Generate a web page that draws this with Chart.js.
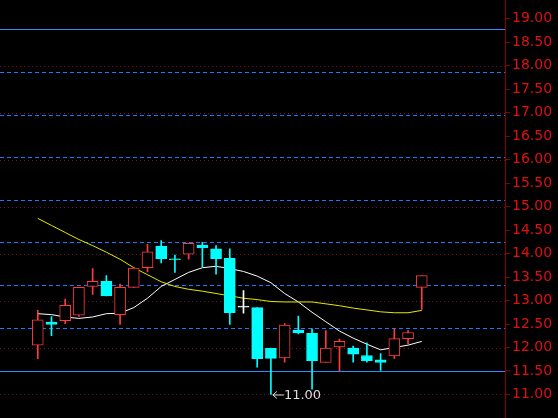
<!DOCTYPE html><html><head><meta charset="utf-8">
<script src="https://cdn.jsdelivr.net/npm/chart.js@4/dist/chart.umd.min.js"></script>
<style>html,body{margin:0;background:#000;overflow:hidden}#c{display:block}</style></head><body>
<canvas id="c" width="558" height="418" style="width:558px;height:418px"></canvas>
<script>
const opens  = [12.05,12.54,12.57,12.69,13.30,13.41,12.70,13.28,13.70,14.16,13.88,13.99,14.18,14.10,13.90,12.86,12.85,11.98,11.78,12.37,12.30,11.68,12.01,11.99,11.83,11.74,11.82,12.19,13.28];
const closes = [12.59,12.49,12.90,13.28,13.41,13.10,13.28,13.69,14.04,13.89,13.87,14.22,14.12,13.89,12.74,12.86,11.76,11.77,12.48,12.31,11.72,11.99,12.13,11.86,11.72,11.68,12.19,12.32,13.53];
const highs  = [12.79,12.66,13.03,13.28,13.68,13.53,13.35,13.70,14.20,14.28,13.97,14.22,14.24,14.17,14.10,13.21,12.85,11.99,12.51,12.67,12.40,12.36,12.18,12.03,12.10,11.87,12.40,12.36,13.53];
const lows   = [11.76,12.25,12.51,12.66,13.13,13.10,12.49,13.28,13.61,13.80,13.60,13.88,13.72,13.56,12.49,12.73,11.58,11.00,11.69,12.29,11.11,11.68,11.50,11.69,11.69,11.51,11.77,12.08,12.81];
const maShort = [12.72,12.70,12.65,12.62,12.65,12.72,12.73,12.85,13.05,13.30,13.45,13.60,13.70,13.73,13.68,13.62,13.52,13.38,13.15,12.97,12.75,12.55,12.35,12.20,12.07,11.95,12.00,12.05,12.13];
const maLong = [14.75,14.60,14.45,14.30,14.17,14.03,13.88,13.70,13.55,13.40,13.30,13.24,13.20,13.15,13.10,13.05,13.02,12.98,12.97,12.97,12.97,12.93,12.89,12.84,12.80,12.76,12.74,12.74,12.79];
const yTicks = [11,11.5,12,12.5,13,13.5,14,14.5,15,15.5,16,16.5,17,17.5,18,18.5,19];
const solidLines = [18.78, 11.51];
const dashedLines = [17.87,16.96,16.06,15.15,14.24,13.33,12.42];
const dottedLines = [18,17,16,15,14,13,12,11];
const lowLabel = '11.00';

const RED='#ff3c3c', CYAN='#00ffff', WHITE='#ffffff';
const idx = opens.map((_,i)=>i);
const col = idx.map(i=> closes[i]>opens[i]?RED:(closes[i]<opens[i]?CYAN:WHITE));
const bodyFill = idx.map(i=> closes[i]>opens[i]?'#000000':col[i]);

const bgPlugin={id:'bg',beforeDraw(ch){const c=ch.ctx;c.save();c.fillStyle='#000';c.fillRect(0,0,ch.width,ch.height);
 const y=ch.scales.y,a=ch.chartArea;
 c.lineWidth=1;
 c.strokeStyle='#6a1a1a';c.setLineDash([1,3]);
 dottedLines.forEach(v=>{const p=Math.round(y.getPixelForValue(v))+0.5;c.beginPath();c.moveTo(a.left,p);c.lineTo(a.right,p);c.stroke();});
 c.strokeStyle='#1e78ff';c.setLineDash([4,3]);
 dashedLines.forEach(v=>{const p=Math.round(y.getPixelForValue(v))+0.5;c.beginPath();c.moveTo(a.left,p);c.lineTo(a.right,p);c.stroke();});
 c.setLineDash([]);c.strokeStyle='#2a8cff';
 solidLines.forEach(v=>{const p=Math.round(y.getPixelForValue(v))+0.5;c.beginPath();c.moveTo(a.left,p);c.lineTo(a.right,p);c.stroke();});
 c.strokeStyle='#8a0000';c.beginPath();c.moveTo(a.right+0.5,0);c.lineTo(a.right+0.5,ch.height);c.stroke();
 c.restore();},
 afterDatasetsDraw(ch){const c=ch.ctx,x=ch.scales.x,y=ch.scales.y;
  const i=lows.indexOf(Math.min(...lows));const px=x.getPixelForValue(i),py=y.getPixelForValue(lows[i]);
  c.save();c.strokeStyle='#ddd';c.fillStyle='#ddd';c.lineWidth=1;
  c.beginPath();c.moveTo(px+2,py+0.5);c.lineTo(px+13,py+0.5);c.moveTo(px+2,py+0.5);c.lineTo(px+6,py-3);c.moveTo(px+2,py+0.5);c.lineTo(px+6,py+4);c.stroke();
  c.font='13px "DejaVu Sans"';c.textBaseline='middle';c.fillText(lowLabel,px+13,py+1);c.restore();}};

new Chart(document.getElementById('c'),{
 data:{datasets:[
  {type:'line',data:idx.map(i=>({x:i,y:maLong[i]})),borderColor:'#e8e800',borderWidth:1,pointRadius:0,tension:0,order:3},
  {type:'line',data:idx.map(i=>({x:i,y:maShort[i]})),borderColor:'#ffffff',borderWidth:1,pointRadius:0,tension:0,order:3},
  {type:'bar',data:idx.map(i=>({x:i,y:[lows[i],highs[i]]})),backgroundColor:col,borderWidth:0,barThickness:1,grouped:false,order:2},
  {type:'bar',data:idx.map(i=>({x:i,y:[opens[i],closes[i]]})),backgroundColor:bodyFill,borderColor:col,borderWidth:1,borderSkipped:false,barThickness:11,minBarLength:1,grouped:false,order:1}
 ]},
 plugins:[bgPlugin],
 options:{responsive:false,animation:false,maintainAspectRatio:false,devicePixelRatio:1,
  layout:{padding:0},
  plugins:{legend:{display:false},tooltip:{enabled:false}},
  scales:{
   x:{type:'linear',min:-0.125,max:31.44,display:false},
   y:{position:'right',min:10.72,max:19.18,
      afterFit(s){s.width=53;},
      afterBuildTicks(s){s.ticks=yTicks.map(v=>({value:v}));},
      grid:{drawOnChartArea:false,color:'#8a0000',tickLength:5,drawTicks:true},
      border:{display:false},
      ticks:{autoSkip:false,color:'#e01010',font:{family:'DejaVu Sans',size:14},padding:2,
        callback:v=>Number(v).toFixed(2)}}
  }}
});
</script></body></html>
